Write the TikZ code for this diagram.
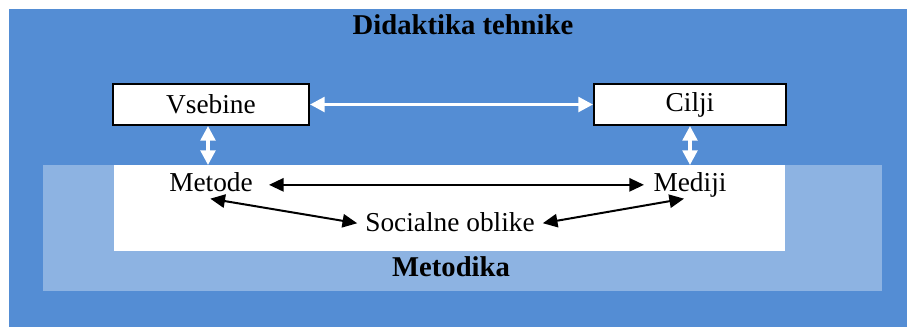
\documentclass[tikz,border=0pt]{standalone}
\usepackage{fontspec}
\setmainfont{Liberation Serif}
\usetikzlibrary{arrows.meta}
\definecolor{outerblue}{RGB}{84,141,212}
\definecolor{paleblue}{RGB}{141,179,226}

\begin{document}
\begin{tikzpicture}[x=0.75pt,y=-0.75pt,
  panel/.style={inner sep=0pt, outer sep=0pt, anchor=north west, draw=none},
  txt/.style={font=\fontsize{20.5}{24}\selectfont, inner sep=1pt, anchor=base,
    text height=14pt, text depth=4pt},
  heading/.style={font=\bfseries\fontsize{21.5}{26}\selectfont, inner sep=1pt},
  conceptbox/.style={draw=black, line width=1.5pt, fill=white, inner sep=0pt,
    font=\fontsize{20.5}{24}\selectfont},
  whitearrow/.style={draw=white, line width=2.5pt,
    {Triangle[length=11pt,width=11pt]}-{Triangle[length=11pt,width=11pt]}},
  blackarrow/.style={draw=black, line width=1.5pt,
    {Triangle[length=11pt,width=10pt]}-{Triangle[length=11pt,width=10pt]}}
]
\useasboundingbox (0,0) rectangle (907,326);
\fill[white] (0,0) rectangle (907,326);

% nested panels (the outer one runs past the right and bottom page edges)
\node[panel, fill=outerblue, minimum width=676pt, minimum height=240pt] (didaktika) at (9,9) {};
\node[panel, fill=paleblue, minimum width=629.25pt, minimum height=94.5pt] (metodika) at (43,165) {};
\node[panel, fill=white, minimum width=503.25pt, minimum height=64.5pt] (inner) at (114,165) {};

% headings
\node[heading] (title) at (463,25) {Didaktika tehnike};
\node[heading] (metlabel) at (451,267) {Metodika};

% concept boxes
\node[conceptbox, minimum width=147pt, minimum height=30.75pt] (vsebine) at (211,104.5) {Vsebine};
\node[conceptbox, minimum width=144pt, minimum height=30.75pt] (cilji) at (690,104.5) {Cilji};

% method-level terms (aligned on their baselines)
\node[txt] (metode) at (211,191.5) {Metode};
\node[txt] (mediji) at (690,191.5) {Mediji};
\node[txt] (social) at (450,231) {Socialne oblike};

% white connectors
\draw[whitearrow] (vsebine.east) -- (cilji.west);
\draw[whitearrow] ([xshift=-2.25pt]vsebine.south) -- ([xshift=-2.25pt]vsebine.south |- inner.north);
\draw[whitearrow] (cilji.south) -- (cilji.south |- inner.north);

% black connectors
\draw[blackarrow, shorten <=11pt, shorten >=6pt] (metode.east) -- (mediji.west);
\draw[blackarrow, shorten <=1pt, shorten >=5pt] ([xshift=-1.5pt]metode.south) -- (social.west);
\draw[blackarrow, shorten <=5pt, shorten >=1pt] (social.east) -- ([xshift=-3.5pt]mediji.south);
\end{tikzpicture}
\end{document}
